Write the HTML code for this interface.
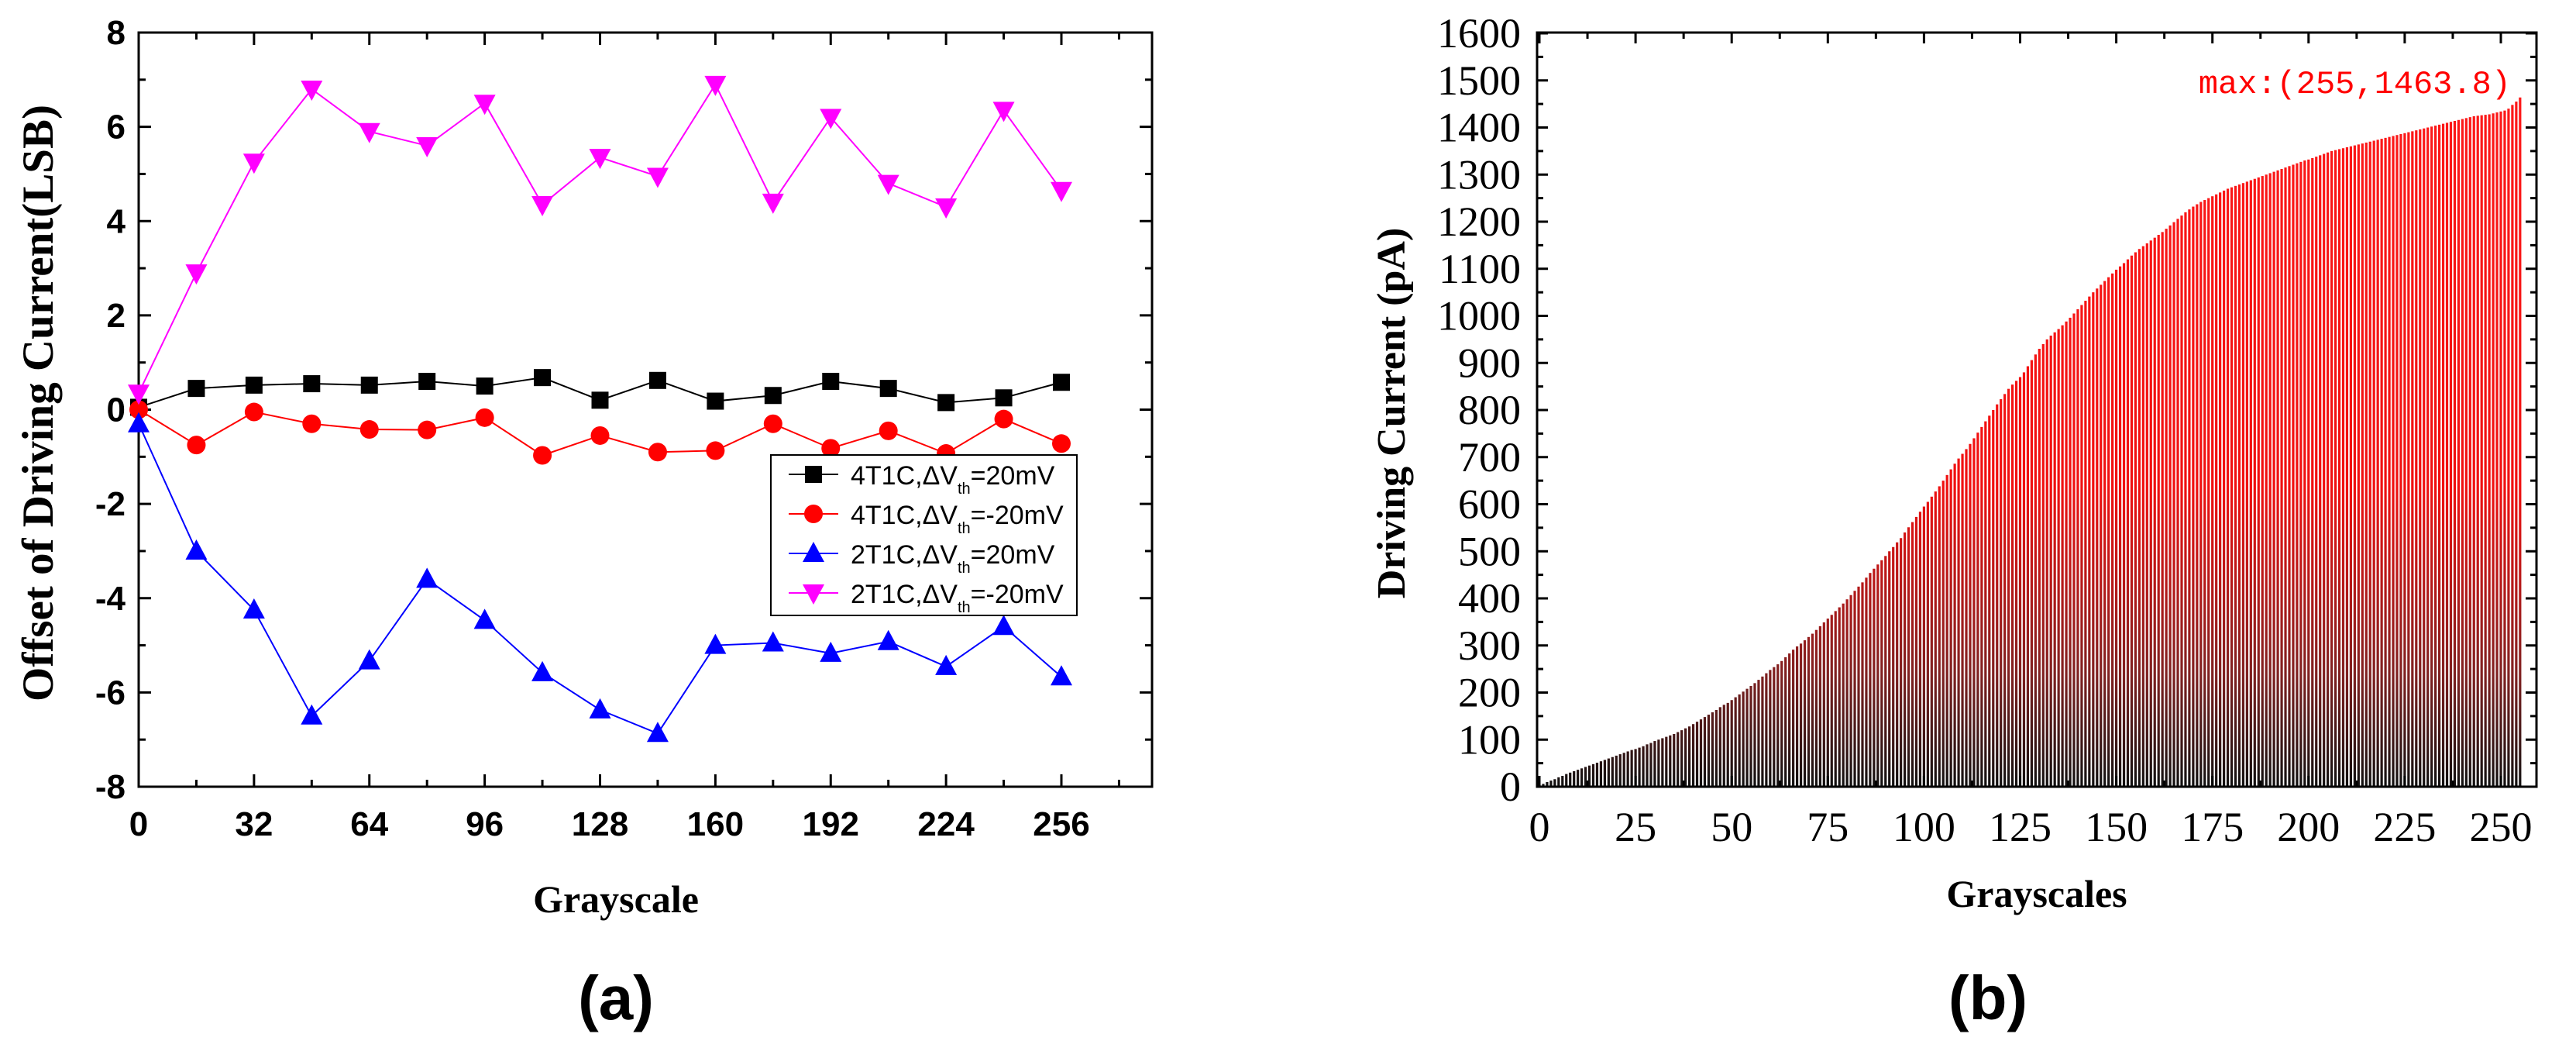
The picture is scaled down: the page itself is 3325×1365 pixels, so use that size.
<!DOCTYPE html>
<html><head><meta charset="utf-8"><style>
body{margin:0;background:#fff}
svg{display:block}
</style></head><body>
<svg id="fig" width="3325" height="1365" viewBox="0 0 3325 1365" xmlns="http://www.w3.org/2000/svg">
<defs>
<linearGradient id="barGrad" gradientUnits="userSpaceOnUse" x1="0" y1="42" x2="0" y2="1015">
<stop offset="0" stop-color="#ff1a1a"/><stop offset="0.6" stop-color="#f01010"/><stop offset="0.85" stop-color="#802020"/><stop offset="1" stop-color="#101010"/>
</linearGradient>
</defs>
<g id="chartA"></g>
<g id="chartB"></g>
<text x="795" y="1315" font-family="Liberation Sans, sans-serif" font-weight="bold" font-size="80" text-anchor="middle">(a)</text>
<text x="2566" y="1315" font-family="Liberation Sans, sans-serif" font-weight="bold" font-size="80" text-anchor="middle">(b)</text>
</svg>
<script>
const grayA = [0,16,32,48,64,80,96,112,128,144,160,176,192,208,224,240,256];
const s4T1Cpos = [0.05,0.45,0.52,0.55,0.52,0.6,0.5,0.68,0.2,0.62,0.18,0.3,0.6,0.45,0.15,0.25,0.58];
const s4T1Cneg = [0,-0.75,-0.05,-0.3,-0.42,-0.43,-0.17,-0.97,-0.55,-0.9,-0.87,-0.3,-0.82,-0.45,-0.93,-0.2,-0.72];
const s2T1Cpos = [-0.3,-3,-4.25,-6.5,-5.33,-3.6,-4.47,-5.58,-6.37,-6.87,-5,-4.95,-5.17,-4.92,-5.45,-4.6,-5.67];
const s2T1Cneg = [0.35,2.9,5.25,6.8,5.9,5.6,6.5,4.35,5.35,4.95,6.9,4.4,6.2,4.8,4.3,6.35,4.65];
const xTicksA = [0,32,64,96,128,160,192,224,256];
const yTicksA = [-8,-6,-4,-2,0,2,4,6,8];
const currentB = [3,6,10,13,16,20,23,27,30,33,36,39,42,45,48,51,54,57,60,63,66,69,72,75,78,80,83,86,90,93,97,100,103,106,109,112,116,120,124,128,133,138,143,148,153,158,163,169,174,178,184,190,196,202,208,214,220,227,234,241,248,254,260,267,275,283,291,298,304,311,318,325,333,341,349,357,365,373,381,389,398,407,416,425,434,444,454,463,472,481,490,500,509,519,528,540,551,562,573,584,595,605,616,627,638,650,662,674,686,697,707,717,728,740,752,764,776,788,800,812,823,834,845,854,862,870,880,893,906,918,930,940,950,958,965,972,980,988,996,1005,1014,1023,1032,1041,1050,1058,1066,1074,1082,1090,1098,1105,1112,1120,1128,1135,1142,1148,1154,1160,1166,1172,1178,1185,1192,1199,1206,1213,1220,1226,1232,1237,1242,1246,1250,1254,1258,1262,1266,1270,1273,1276,1279,1282,1285,1288,1291,1294,1297,1300,1303,1306,1309,1312,1315,1318,1321,1324,1327,1330,1332,1335,1338,1341,1344,1347,1350,1352,1354,1356,1358,1360,1362,1364,1366,1368,1370,1372,1374,1376,1378,1380,1382,1384,1386,1388,1390,1392,1394,1396,1398,1400,1402,1404,1406,1408,1410,1412,1414,1416,1418,1420,1422,1424,1425,1426,1427,1428,1430,1432,1434,1436,1440,1448,1455,1463.8];
const xTicksB = [0,25,50,75,100,125,150,175,200,225,250];
const yTicksB = [0,100,200,300,400,500,600,700,800,900,1000,1100,1200,1300,1400,1500,1600];

const NS="http://www.w3.org/2000/svg";
function mk(parent,tag,attrs,text){const e=document.createElementNS(NS,tag);for(const k in attrs)e.setAttribute(k,attrs[k]);if(text!==undefined)e.textContent=text;parent.appendChild(e);return e;}

// ---------- Chart A ----------
const A=document.getElementById('chartA');
const aL=179,aR=1487,aT=42,aB=1015;
const ax=v=>aL+v*(1370-aL)/256;
const ay=v=>aB-(v+8)*(aB-aT)/16;
let fr=mk(A,'rect',{x:aL,y:aT,width:aR-aL,height:aB-aT,fill:'none',stroke:'#000','stroke-width':3});


for(let v=0;v<=272;v+=16){const maj=v%32===0;const L=maj?16:9;
 mk(A,'line',{x1:ax(v),x2:ax(v),y1:aB,y2:aB-L,stroke:'#000','stroke-width':3});
 mk(A,'line',{x1:ax(v),x2:ax(v),y1:aT,y2:aT+L,stroke:'#000','stroke-width':3});}
for(let v=-8;v<=8;v+=1){const maj=v%2===0;const L=maj?16:9;
 mk(A,'line',{x1:aL,x2:aL+L,y1:ay(v),y2:ay(v),stroke:'#000','stroke-width':3});
 mk(A,'line',{x1:aR,x2:aR-L,y1:ay(v),y2:ay(v),stroke:'#000','stroke-width':3});}
xTicksA.forEach(v=>{const t=mk(A,'text',{x:ax(v),y:1078,'font-family':'Liberation Sans, sans-serif','font-weight':'bold','font-size':44,'text-anchor':'middle'},String(v));
 
 });
yTicksA.forEach(v=>{const t=mk(A,'text',{x:162,y:ay(v)+15,'font-family':'Liberation Sans, sans-serif','font-weight':'bold','font-size':44,'text-anchor':'end'},String(v));
 
 });
let t1=mk(A,'text',{x:795,y:1177,'font-family':'Liberation Serif, serif','font-weight':'bold','font-size':50,'text-anchor':'middle'},'Grayscale');


let t2=mk(A,'text',{x:0,y:0,'font-family':'Liberation Serif, serif','font-weight':'bold','font-size':57,'text-anchor':'middle',transform:'translate(68,520) rotate(-90)'},'Offset of Driving Current(LSB)');



function marker(g,type,x,y,color){
 if(type==='sq')return mk(g,'rect',{x:x-11,y:y-11,width:22,height:22,fill:color});
 if(type==='ci')return mk(g,'circle',{cx:x,cy:y,r:12,fill:color});
 if(type==='up')return mk(g,'polygon',{points:`${x},${y-15} ${x-14},${y+11} ${x+14},${y+11}`,fill:color});
 return mk(g,'polygon',{points:`${x},${y+15} ${x-14},${y-11} ${x+14},${y-11}`,fill:color});
}
const series=[[s4T1Cpos,'#000','sq','series-4t1c-pos'],[s4T1Cneg,'#ff0000','ci','series-4t1c-neg'],[s2T1Cpos,'#0000ff','up','series-2t1c-pos'],[s2T1Cneg,'#ff00ff','dn','series-2t1c-neg']];
series.forEach(([vals,col,mt,name])=>{
 const g=mk(A,'g',{});
 
 
 mk(g,'polyline',{points:vals.map((v,i)=>ax(grayA[i])+','+ay(v)).join(' '),fill:'none',stroke:col,'stroke-width':2});
 vals.forEach((v,i)=>{const m=marker(g,mt,ax(grayA[i]),ay(v),col);
  
  });
});
// legend
const lg=mk(A,'g',{});


mk(lg,'rect',{x:995,y:587,width:395,height:207,fill:'#fff',stroke:'#000','stroke-width':2});
const labels=[['4T1C,ΔV','=20mV'],['4T1C,ΔV','=-20mV'],['2T1C,ΔV','=20mV'],['2T1C,ΔV','=-20mV']];
series.forEach(([vals,col,mt,name],i)=>{
 const y=612+i*51;
 const e=mk(lg,'g',{});
 
 
 mk(e,'line',{x1:1018,x2:1082,y1:y,y2:y,stroke:col,'stroke-width':2});
 marker(e,mt,1050,y,col);
 const tx=mk(e,'text',{x:1098,y:y+13,'font-family':'Liberation Sans, sans-serif','font-size':34});
 mk(tx,'tspan',{},labels[i][0]);
 mk(tx,'tspan',{'font-size':20,dy:12},'th');
 mk(tx,'tspan',{dy:-12},labels[i][1]);
});

// ---------- Chart B ----------
const B=document.getElementById('chartB');
const bL=1984,bR=3274,bT=42,bB=1015;
const bx=v=>1987+v*(3228-1987)/250;
const by=v=>bB-v*(bB-43)/1600;
const bars=mk(B,'g',{});


currentB.forEach((v,i)=>{const r=mk(bars,'rect',{x:bx(i)-1.6,y:by(v),width:3.2,height:bB-by(v),fill:'url(#barGrad)'});
 
 });
let fb=mk(B,'rect',{x:bL,y:bT,width:bR-bL,height:bB-bT,fill:'none',stroke:'#000','stroke-width':3});


for(let v=0;v<=260;v+=12.5){const maj=v%25===0;const L=maj?14:8;
 mk(B,'line',{x1:bx(v),x2:bx(v),y1:bB,y2:bB-L,stroke:'#000','stroke-width':3});
 mk(B,'line',{x1:bx(v),x2:bx(v),y1:bT,y2:bT+L,stroke:'#000','stroke-width':3});}
for(let v=0;v<=1600;v+=50){const maj=v%100===0;const L=maj?14:8;
 mk(B,'line',{x1:bL,x2:bL+L,y1:by(v),y2:by(v),stroke:'#000','stroke-width':3});
 mk(B,'line',{x1:bR,x2:bR-L,y1:by(v),y2:by(v),stroke:'#000','stroke-width':3});}
xTicksB.forEach(v=>{const t=mk(B,'text',{x:bx(v),y:1085,'font-family':'Liberation Serif, serif','font-size':54,'text-anchor':'middle'},String(v));
 
 });
yTicksB.forEach(v=>{const t=mk(B,'text',{x:1963,y:by(v)+18,'font-family':'Liberation Serif, serif','font-size':54,'text-anchor':'end'},String(v));
 
 });
let t3=mk(B,'text',{x:2629,y:1170,'font-family':'Liberation Serif, serif','font-weight':'bold','font-size':50,'text-anchor':'middle'},'Grayscales');


let t4=mk(B,'text',{x:0,y:0,'font-family':'Liberation Serif, serif','font-weight':'bold','font-size':52,'text-anchor':'middle',transform:'translate(1813,533) rotate(-90)'},'Driving Current (pA)');


let t5=mk(B,'text',{x:3241,y:120,'font-family':'Liberation Mono, monospace','font-size':42,'text-anchor':'end',fill:'#ff0000'},'max:(255,1463.8)');


</script>
</body></html>
